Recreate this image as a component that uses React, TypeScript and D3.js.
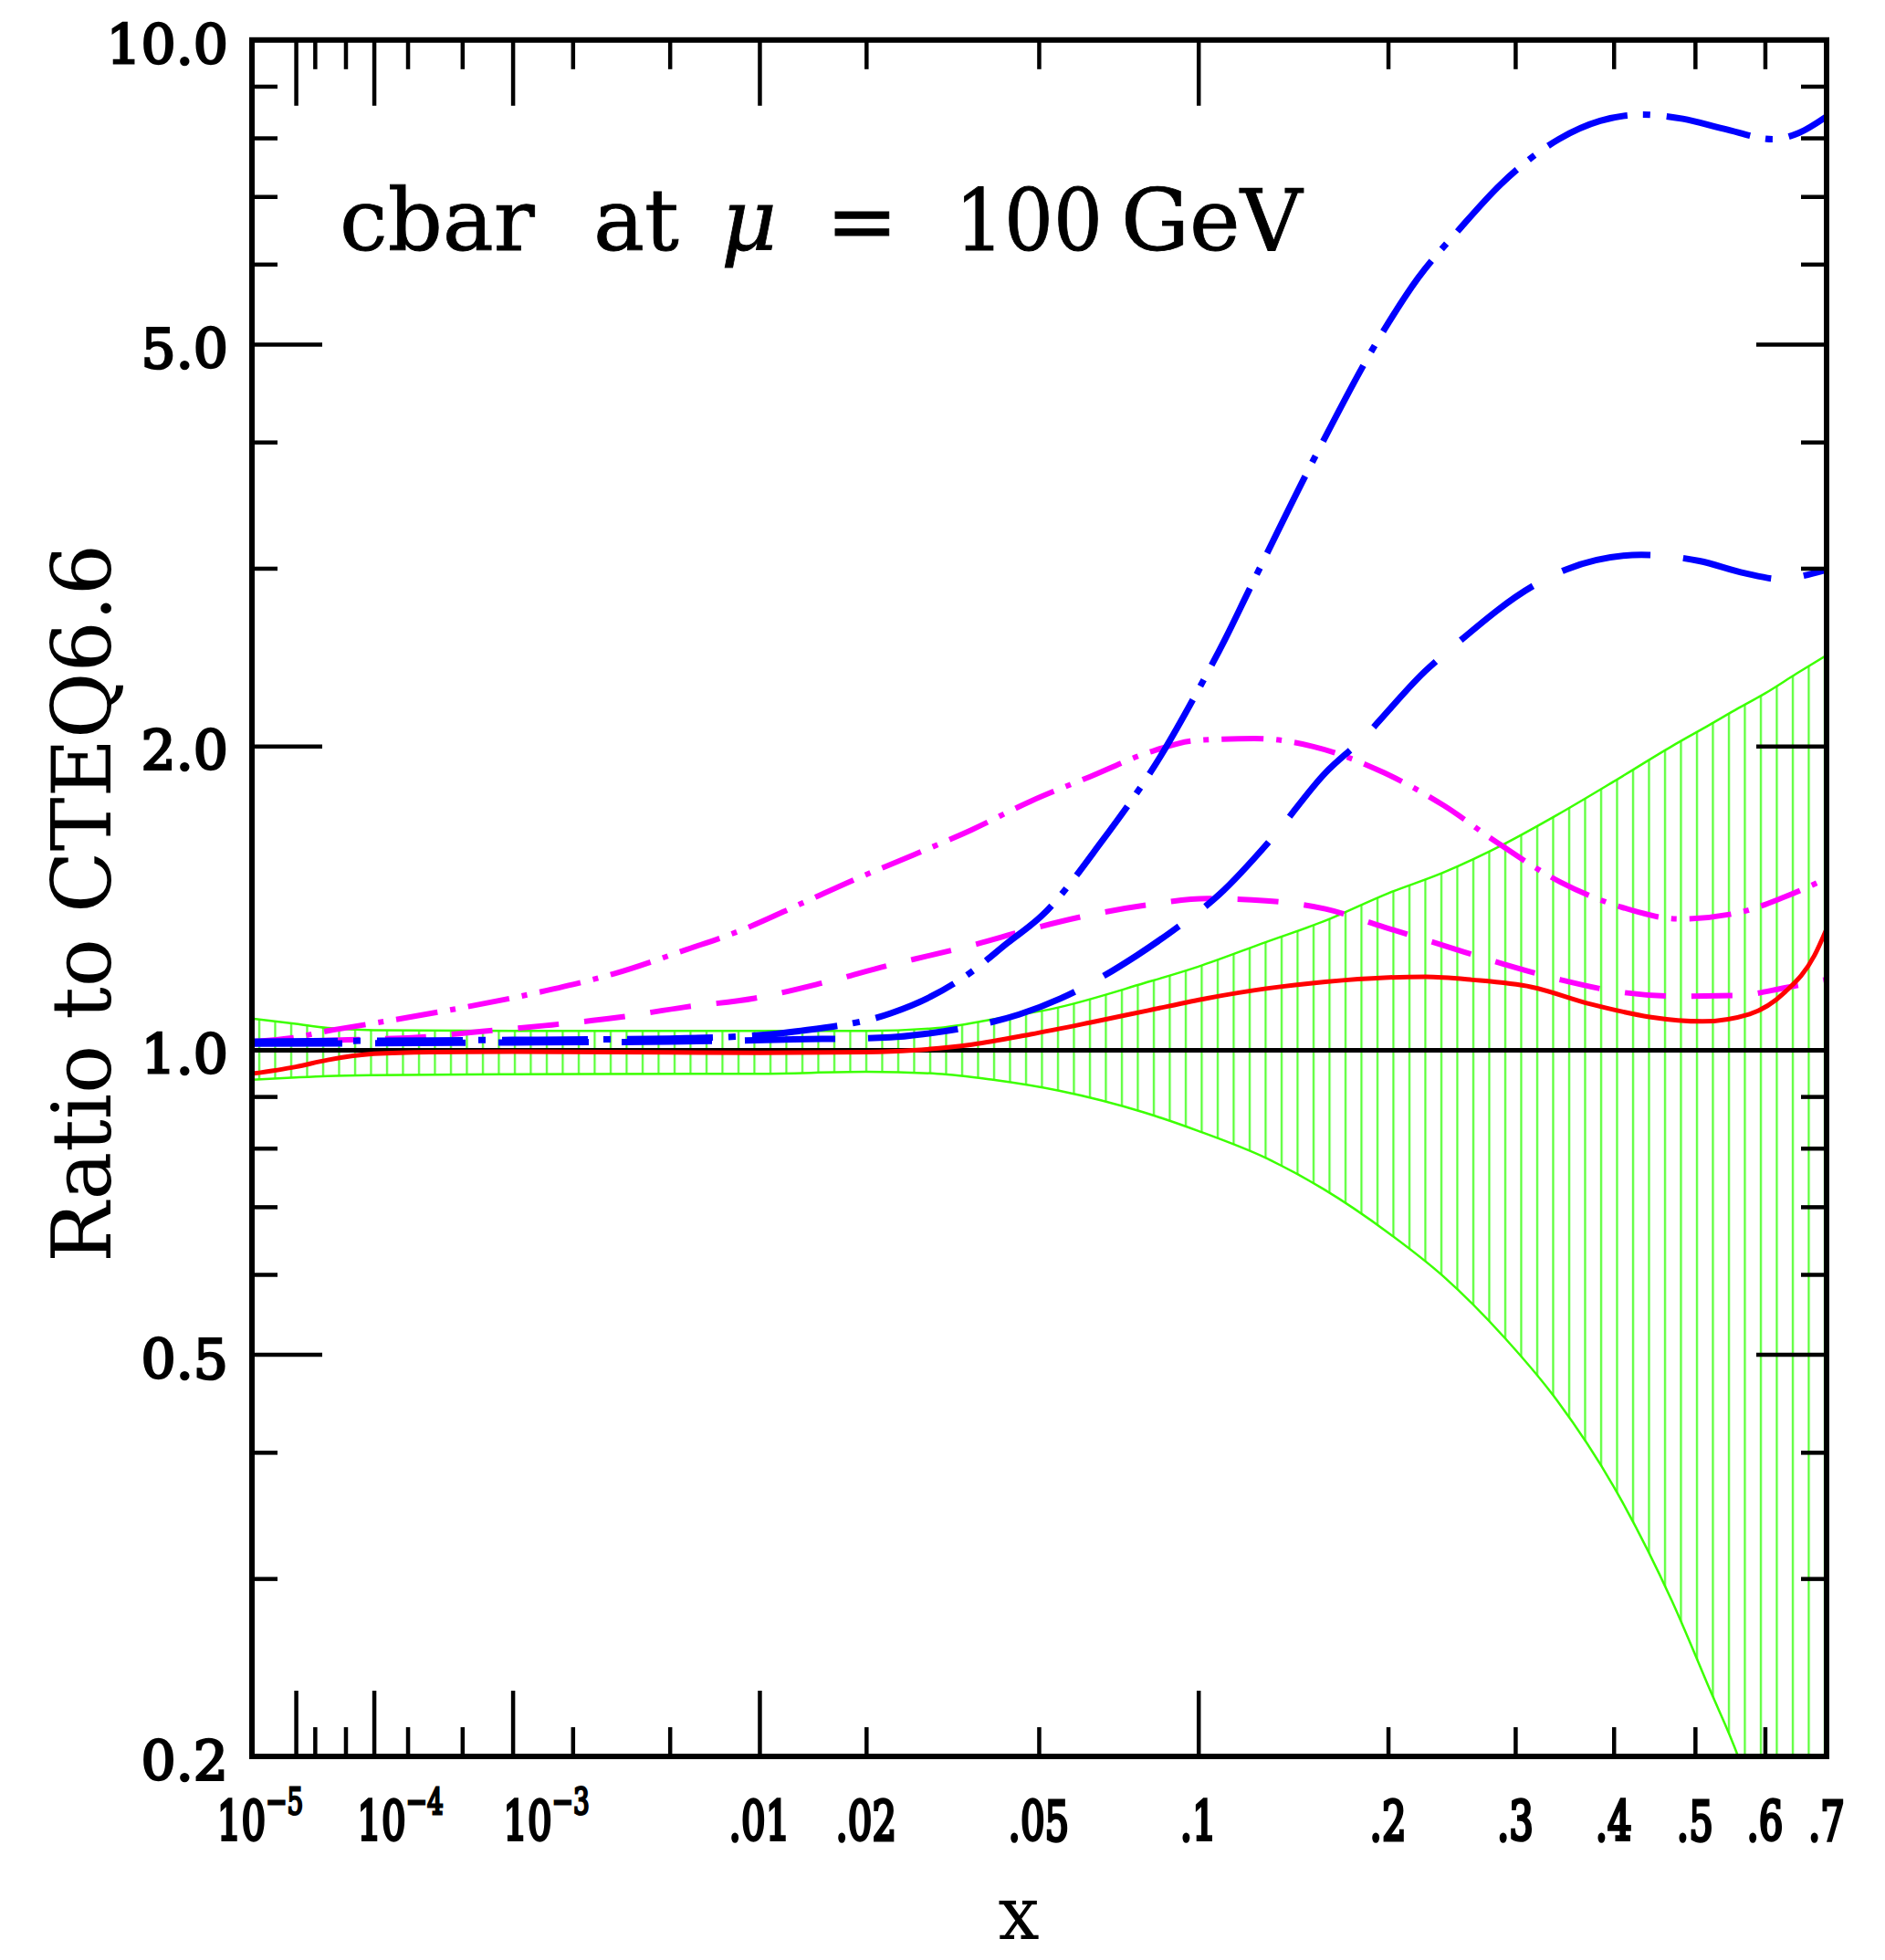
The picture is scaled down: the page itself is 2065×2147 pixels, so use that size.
import React, { Component } from 'react';
import * as d3 from 'd3';

// CTEQ6.6 uncertainty band: x grid and upper / lower ratio
const bandX = [1e-6, 1e-5, 3e-5, 1e-4, 1e-3, 0.01, 0.02, 0.03, 0.04, 0.055, 0.08, 0.1, 0.13, 0.16, 0.2, 0.24, 0.29, 0.34, 0.4, 0.47, 0.52, 0.56, 0.6, 0.65, 0.7];
const bandHi = [1.075, 1.062, 1.052, 1.047, 1.045, 1.045, 1.045, 1.052, 1.073, 1.103, 1.165, 1.21, 1.28, 1.341, 1.43, 1.5, 1.6, 1.71, 1.845, 2.0, 2.1, 2.18, 2.255, 2.36, 2.46];
const bandLo = [0.935, 0.94, 0.943, 0.945, 0.947, 0.948, 0.952, 0.948, 0.935, 0.912, 0.868, 0.832, 0.782, 0.729, 0.66, 0.597, 0.52, 0.45, 0.37, 0.285, 0.233, 0.2, 0.165, 0.13, 0.1];

// ratio curves, [x, ratio]
const redSolid = [[1e-6, 0.948], [1e-5, 0.963], [3e-5, 0.978], [1e-4, 0.992], [3e-4, 0.996], [1e-3, 0.997], [3e-3, 0.996], [0.01, 0.994], [0.02, 0.996], [0.0262, 1.0], [0.0359, 1.013], [0.0481, 1.037], [0.0632, 1.065], [0.0815, 1.095], [0.1037, 1.126], [0.1299, 1.151], [0.1612, 1.169], [0.1975, 1.18], [0.2264, 1.182], [0.2629, 1.174], [0.3152, 1.155], [0.3746, 1.111], [0.442, 1.079], [0.51, 1.068], [0.577, 1.086], [0.6314, 1.142], [0.6794, 1.241], [0.7, 1.318]];
const blueDashDot = [[1e-6, 1.02], [1e-4, 1.022], [1e-3, 1.024], [0.005, 1.027], [0.0108, 1.037], [0.0129, 1.044], [0.0231, 1.088], [0.0289, 1.13], [0.0358, 1.195], [0.0429, 1.276], [0.0509, 1.361], [0.0666, 1.608], [0.0857, 1.953], [0.099, 2.25], [0.1112, 2.554], [0.1217, 2.85], [0.1553, 3.865], [0.1954, 5.107], [0.221, 5.815], [0.2525, 6.5], [0.2872, 7.2], [0.3416, 7.976], [0.385, 8.316], [0.4323, 8.435], [0.484, 8.356], [0.54, 8.166], [0.6136, 7.976], [0.6531, 8.088], [0.7, 8.4]];
const blueDash = [[1e-6, 1.015], [1e-4, 1.016], [1e-3, 1.018], [0.005, 1.02], [0.0127, 1.025], [0.0231, 1.03], [0.028, 1.038], [0.036, 1.056], [0.0455, 1.085], [0.0553, 1.125], [0.0776, 1.241], [0.09, 1.312], [0.1086, 1.426], [0.133, 1.623], [0.1612, 1.882], [0.1823, 2.026], [0.2264, 2.375], [0.2492, 2.52], [0.3174, 2.885], [0.35, 2.994], [0.4323, 3.093], [0.5059, 3.05], [0.5698, 2.966], [0.6267, 2.925], [0.65, 2.94], [0.7, 2.99]];
const magentaDashDot = [[1e-6, 1.02], [1e-5, 1.03], [3e-5, 1.045], [1.083e-4, 1.065], [4.555e-4, 1.099], [1.391e-3, 1.142], [3.011e-3, 1.19], [5.751e-3, 1.258], [8.628e-3, 1.312], [0.0135, 1.4], [0.019, 1.48], [0.0262, 1.56], [0.0359, 1.653], [0.0481, 1.764], [0.0632, 1.865], [0.0815, 1.971], [0.099, 2.026], [0.1244, 2.035], [0.1545, 1.998], [0.1975, 1.882], [0.2398, 1.748], [0.2831, 1.608], [0.3439, 1.466], [0.4073, 1.387], [0.479, 1.349], [0.5597, 1.368], [0.6314, 1.419], [0.7, 1.479]];
const magentaDash = [[1e-6, 1.015], [1e-5, 1.02], [1e-4, 1.026], [2.15e-4, 1.029], [6.68e-4, 1.044], [1.478e-3, 1.058], [3.088e-3, 1.077], [5.63e-3, 1.103], [9.67e-3, 1.126], [0.0153, 1.166], [0.0231, 1.215], [0.0262, 1.23], [0.0359, 1.27], [0.0481, 1.318], [0.0632, 1.361], [0.0815, 1.393], [0.1037, 1.413], [0.13, 1.406], [0.1612, 1.38], [0.1975, 1.324], [0.2398, 1.27], [0.2883, 1.218], [0.3439, 1.174], [0.4073, 1.142], [0.479, 1.131], [0.5597, 1.133], [0.6314, 1.153], [0.7, 1.175]];

// ticks
const yLabelTicks = [0.2, 0.5, 1.0, 2.0, 5.0, 10.0];
const yMajor = [0.5, 2.0, 5.0];
const yMinor = [0.3, 0.4, 0.6, 0.7, 0.8, 0.9, 3, 4, 6, 7, 8, 9];
const xMajor = [1e-5, 1e-4, 1e-3, 0.01, 0.1];
const xMinor = [2e-5, 5e-5, 2e-4, 5e-4, 2e-3, 5e-3, 0.02, 0.05, 0.2, 0.3, 0.4, 0.5, 0.6];
const xTickValues = [1e-5, 1e-4, 1e-3, 0.01, 0.02, 0.05, 0.1, 0.2, 0.3, 0.4, 0.5, 0.6, 0.7];
const xTickText = ['10', '10', '10', '.01', '.02', '.05', '.1', '.2', '.3', '.4', '.5', '.6', '.7'];
const xTickSup = ['−5', '−4', '−3', '', '', '', '', '', '', '', '', '', ''];

// small horizontal nudges of the power-of-ten labels
const labelNudge = [-39, 29, 37, 0, 0, 0, 0, 0, 0, 0, 0, 0, 0];

const serif = "'DejaVu Serif', serif";

class Chart extends Component {
  svgRef = React.createRef<SVGSVGElement>();

  componentDidMount() {
    this.draw();
  }

  draw() {
    const width = 2065;
    const height = 2147;
    const margin = { top: 43.8, left: 276 };
    const innerWidth = 1725;
    const innerHeight = 1880.2;

    const svg = d3.select(this.svgRef.current);
    svg.selectAll('*').remove();
    svg.attr('width', width).attr('height', height);

    const x = d3.scalePow().exponent(0.25).domain([1e-6, 0.7]).range([0, innerWidth]);
    const y = d3.scaleLog().domain([0.2, 10]).range([innerHeight, 0]);

    const defs = svg.append('defs');
    defs.append('clipPath').attr('id', 'plotclip')
      .append('rect').attr('width', innerWidth).attr('height', innerHeight);
    const pat = defs.append('pattern').attr('id', 'hatch')
      .attr('patternUnits', 'userSpaceOnUse').attr('width', 17.5).attr('height', 20);
    pat.append('line').attr('x1', 8).attr('x2', 8).attr('y1', 0).attr('y2', 20)
      .attr('stroke', '#55ff33').attr('stroke-width', 2.2);

    const g = svg.append('g').attr('transform', `translate(${margin.left},${margin.top})`);
    const plot = g.append('g').attr('clip-path', 'url(#plotclip)');

    // band
    const bandRows = bandX.map((v, i) => ({ x: v, hi: bandHi[i], lo: bandLo[i] }));
    const area = d3.area<any>()
      .x(d => x(d.x)).y0(d => y(d.lo)).y1(d => y(d.hi))
      .curve(d3.curveMonotoneX);
    plot.append('path').datum(bandRows).attr('d', area).attr('fill', 'url(#hatch)');
    const edge = (key: string) => d3.line<any>().x(d => x(d.x)).y(d => y(d[key])).curve(d3.curveMonotoneX);
    plot.append('path').datum(bandRows).attr('d', edge('hi'))
      .attr('fill', 'none').attr('stroke', '#3cff00').attr('stroke-width', 2.5);
    plot.append('path').datum(bandRows).attr('d', edge('lo'))
      .attr('fill', 'none').attr('stroke', '#3cff00').attr('stroke-width', 2.5);

    // ratio = 1 line
    plot.append('line').attr('x1', 0).attr('x2', innerWidth)
      .attr('y1', y(1)).attr('y2', y(1))
      .attr('stroke', '#000').attr('stroke-width', 5);

    const line = d3.line<number[]>().x(d => x(d[0])).y(d => y(d[1])).curve(d3.curveMonotoneX);
    const series = [
      { data: magentaDash, color: '#ff00ff', w: 6, dash: '45 28' },
      { data: magentaDashDot, color: '#ff00ff', w: 6, dash: '46 14 6 14' },
      { data: blueDash, color: '#0000ff', w: 7, dash: '99 36' },
      { data: blueDashDot, color: '#0000ff', w: 7, dash: '94 17 8 18' },
      { data: redSolid, color: '#ff0000', w: 5, dash: null },
    ];
    plot.selectAll('.curve').data(series).join('path').attr('class', 'curve')
      .attr('d', d => line(d.data as number[][]))
      .attr('fill', 'none')
      .attr('stroke', d => d.color)
      .attr('stroke-width', d => d.w)
      .attr('stroke-dasharray', d => d.dash);

    // tick marks, pointing inwards on all four sides
    const tickAxis = (axis: any, values: number[], size: number, transform: string) => {
      const a = g.append('g').attr('transform', transform)
        .call(axis.tickValues(values).tickSize(size).tickSizeOuter(0).tickFormat(() => ''));
      a.select('.domain').remove();
      a.selectAll('line').attr('stroke', '#000').attr('stroke-width', 4.5);
    };
    tickAxis(d3.axisBottom(x), xMajor, -72, `translate(0,${innerHeight})`);
    tickAxis(d3.axisBottom(x), xMinor, -32, `translate(0,${innerHeight})`);
    tickAxis(d3.axisTop(x), xMajor, -72, 'translate(0,0)');
    tickAxis(d3.axisTop(x), xMinor, -32, 'translate(0,0)');
    tickAxis(d3.axisLeft(y), yMajor, -77, 'translate(0,0)');
    tickAxis(d3.axisLeft(y), yMinor, -28, 'translate(0,0)');
    tickAxis(d3.axisRight(y), yMajor, -77, `translate(${innerWidth},0)`);
    tickAxis(d3.axisRight(y), yMinor, -28, `translate(${innerWidth},0)`);

    // frame
    g.append('rect').attr('width', innerWidth).attr('height', innerHeight)
      .attr('fill', 'none').attr('stroke', '#000').attr('stroke-width', 6);

    // y tick labels (regular face thickened with a stroke)
    g.selectAll('.ylab').data(yLabelTicks).join('text').attr('class', 'ylab')
      .attr('x', -26).attr('y', d => y(d) + 5)
      .attr('text-anchor', 'end').attr('dominant-baseline', 'central')
      .attr('stroke', '#000').attr('stroke-width', 2.6)
      .style('font-family', serif).style('font-size', '60px')
      .text(d => d3.format('.1f')(d));

    // x tick labels (narrow, with superscripts)
    const xl = g.selectAll('.xlab').data(xTickValues).join('text').attr('class', 'xlab')
      .attr('transform', (d, i) => `translate(${x(d) + labelNudge[i]},${innerHeight + 92}) scale(0.7,1)`)
      .attr('text-anchor', 'middle')
      .attr('stroke', '#000').attr('stroke-width', 3.6)
      .style('font-family', serif).style('font-size', '60px');
    xl.append('tspan').text((d, i) => xTickText[i]);
    xl.append('tspan').attr('dy', -29).attr('stroke-width', 2.8).style('font-size', '40px').text((d, i) => xTickSup[i]);

    // axis titles
    svg.append('text')
      .attr('transform', 'translate(120.5,989.5) rotate(-90)')
      .attr('text-anchor', 'middle')
      .attr('textLength', 787).attr('lengthAdjust', 'spacingAndGlyphs')
      .style('font-family', serif).style('font-size', '90px')
      .text('Ratio to CTEQ6.6');

    svg.append('text')
      .attr('x', 1116).attr('y', 2124)
      .attr('text-anchor', 'middle')
      .style('font-family', serif).style('font-size', '80px')
      .text('x');

    // title
    const title = svg.append('text').attr('y', 274)
      .attr('stroke', '#000').attr('stroke-width', 0.8)
      .style('font-family', serif).style('font-size', '94px');
    title.append('tspan').attr('x', 372).text('cbar');
    title.append('tspan').attr('x', 650).text('at');
    title.append('tspan').attr('x', 790).style('font-style', 'italic').text('μ');
    title.append('tspan').attr('x', 905).text('=');
    title.append('tspan').attr('x', 1046).attr('textLength', 162).attr('lengthAdjust', 'spacingAndGlyphs').text('100');
    title.append('tspan').attr('x', 1228).text('GeV');
  }

  render() {
    return (
      <svg ref={this.svgRef} style={{ position: 'absolute', left: 0, top: 0, display: 'block', background: '#fff' }} />
    );
  }
}

export default function App() {
  return <Chart />;
}
